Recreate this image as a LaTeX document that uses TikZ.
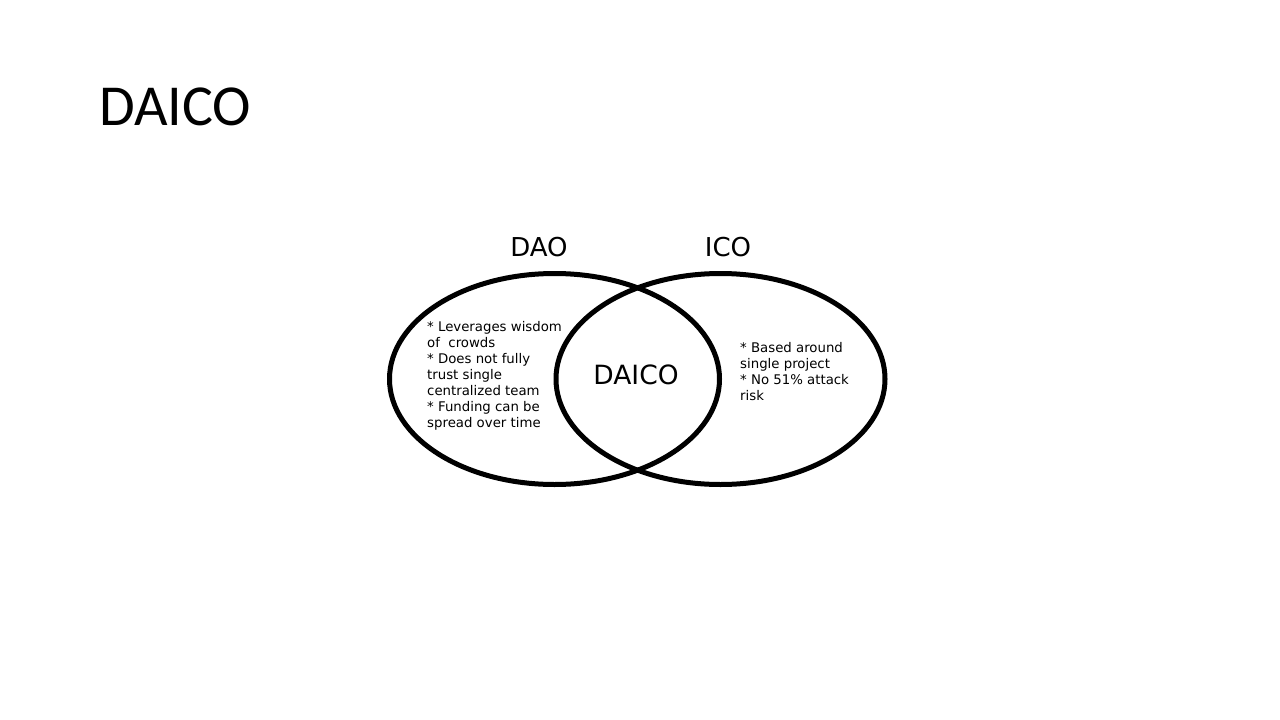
\documentclass[tikz,border=0pt]{standalone}
\usepackage{fontspec}
\setmainfont{DejaVu Sans}
\newfontfamily\titlefont{Carlito}
\begin{document}
\begin{tikzpicture}[x=1pt,y=-1pt,
  venn/.style={draw=black,line width=5pt},
  setlabel/.style={font=\fontsize{26}{30}\selectfont,anchor=center,inner sep=0pt},
  bullets/.style={font=\fontsize{13.3}{16}\selectfont,align=left,anchor=north west,inner sep=0pt}]
\useasboundingbox (0,0) rectangle (1280,720);
\node[font=\titlefont\fontsize{58}{60}\selectfont,anchor=base west,inner sep=0pt] (title) at (99,125) {DAICO};
\draw[venn] (554.5,379) ellipse [x radius=165, y radius=105.5];
\draw[venn] (720.5,379) ellipse [x radius=164.5, y radius=105.5];
\node[setlabel] (dao) at (539,247) {DAO};
\node[setlabel] (ico) at (728,247) {ICO};
\node[font=\fontsize{26.5}{30}\selectfont,inner sep=0pt] (daico) at (636,375) {DAICO};
\node[bullets] (left) at (427,321.5) {* Leverages wisdom\\of\ \ crowds\\* Does not fully\\trust single\\centralized team\\* Funding can be\\spread over time};
\node[bullets] (right) at (740,342.5) {* Based around\\single project\\* No 51\% attack\\risk};
\end{tikzpicture}
\end{document}
